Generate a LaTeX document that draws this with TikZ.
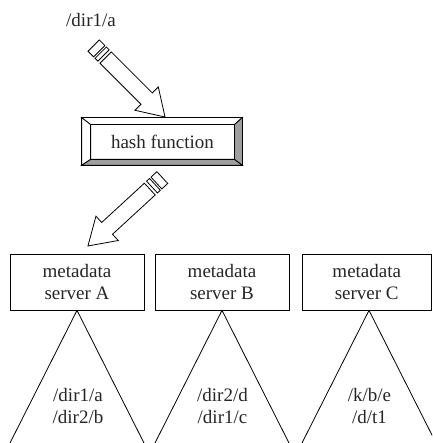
\documentclass[tikz,border=0pt]{standalone}
\usepackage{fontspec}
\setmainfont{Liberation Serif}
\begin{document}
\begin{tikzpicture}[x=1pt,y=1pt,line width=0.8pt,
  lbl/.style={font=\fontsize{19}{22}\selectfont, text=black!85, align=center, inner sep=0pt},
  server/.style={draw, lbl, minimum height=56pt, minimum width=134pt},
  bevellight/.style={draw, fill=white, line join=miter},
  beveldark/.style={draw, fill=black!38, line join=miter},
  blockarrow/.style={draw, fill=white, line join=miter}
]
\fill[white] (0,0) rectangle (432,443);
\useasboundingbox (0,0) rectangle (432,443);
\clip (0,0) rectangle (432,443);

% source label
\node[lbl] (src) at (91,423) {/dir1/a};

% hash function box (bevelled)
\node[minimum width=160pt, minimum height=47pt, inner sep=0pt] (hashout) at (162,301.5) {};
\node[minimum width=143pt, minimum height=34pt, inner sep=0pt] (hash) at (162.5,301) {};
\path[bevellight] (hashout.north west) -- (hashout.north east) -- (hash.north east) -- (hash.north west) -- cycle;
\path[bevellight] (hashout.north west) -- (hash.north west) -- (hash.south west) -- (hashout.south west) -- cycle;
\path[beveldark] (hashout.north east) -- (hashout.south east) -- (hash.south east) -- (hash.north east) -- cycle;
\path[beveldark] (hashout.south west) -- (hashout.south east) -- (hash.south east) -- (hash.south west) -- cycle;
\node[lbl] (hashtxt) at (hash.center) {hash function};

% block arrow 1 (source -> hash)
\coordinate (t1) at (93.6,397.4);
\coordinate (h1) at (165,326);
\begin{scope}[shift={(t1)}, rotate=-45]
  \path[blockarrow] (0,-8) rectangle (8,8);
  \path[blockarrow] (10,-8) rectangle (14,8);
  \path[blockarrow] (17,-8) -- (75,-8) -- (75,-16.5) -- (101,0) -- (75,16.5) -- (75,8) -- (17,8) -- cycle;
\end{scope}

% block arrow 2 (hash -> server A)
\coordinate (t2) at (162.3,265.4);
\coordinate (h2) at (88,197);
\begin{scope}[shift={(t2)}, rotate=-137.4]
  \path[blockarrow] (0,-8) rectangle (8,8);
  \path[blockarrow] (10,-8) rectangle (14,8);
  \path[blockarrow] (17,-8) -- (75,-8) -- (75,-16.5) -- (101,0) -- (75,16.5) -- (75,8) -- (17,8) -- cycle;
\end{scope}

% metadata servers
\node[server] (A) at (77,161) {metadata\\server A};
\node[server] (B) at (222,161) {metadata\\server B};
\node[server, minimum width=129.5pt] (C) at (366.75,161) {metadata\\server C};

% subtrees
\coordinate (Al) at (10,0);
\coordinate (Ar) at (144,0);
\coordinate (Bl) at (155,0);
\coordinate (Br) at (289,0);
\coordinate (Ctop) at ([xshift=2.25pt]C.south);
\coordinate (Cl) at (302,0);
\coordinate (Cr) at (436,0);
\draw (Al) -- (A.south) -- (Ar);
\draw (Bl) -- (B.south) -- (Br);
\draw (Cl) -- (Ctop) -- (Cr);

\node[lbl] (Atxt) at (78,37) {/dir1/a\\/dir2/b};
\node[lbl] (Btxt) at (222.5,37) {/dir2/d\\/dir1/c};
\node[lbl] (Ctxt) at (369.5,37) {/k/b/e\\/d/t1};
\end{tikzpicture}
\end{document}
